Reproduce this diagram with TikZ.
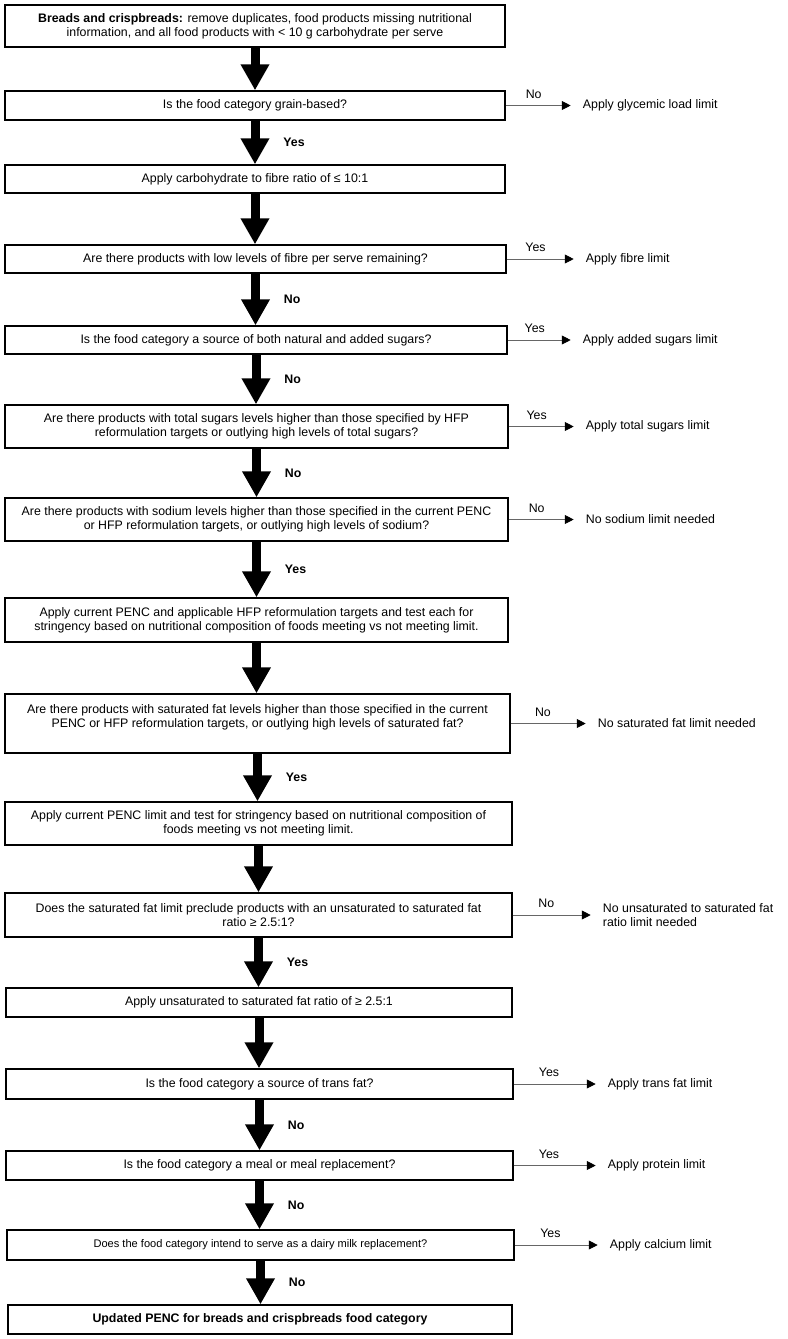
\documentclass[tikz,border=0pt]{standalone}
\usepackage{fontspec}
\setmainfont{Liberation Sans}
\usepackage{tikz}
\usetikzlibrary{arrows.meta,positioning}
\newlength\px
\setlength\px{0.85pt}

\begin{document}
\begin{tikzpicture}[x=0.85pt,y=-0.85pt,
  box/.style={draw,line width=1.2pt,align=center,inner sep=0pt,
    font=\fontsize{10.5}{12}\selectfont},
  outcome/.style={align=left,inner xsep=10.2pt,inner ysep=0pt,
    font=\fontsize{10.5}{12}\selectfont},
  bigarrow/.style={line width=7.65pt,-{Triangle[length=22.1pt,width=23pt]}},
  sidearrow/.style={line width=0.7pt,draw=black!60,-{Triangle[length=7.6pt,width=7.6pt,color=black]}},
  ans/.style={midway,right,xshift=17pt,font=\fontsize{10.5}{12}\selectfont\bfseries},
  sidelab/.style={pos=0.43,above=2.5pt,font=\fontsize{10.5}{12}\selectfont}]
\useasboundingbox (0,0) rectangle (787,1339);

% Main column
\node[box,minimum width=500\px,minimum height=42\px] (b1) at (255,26)
  {\textbf{Breads and crispbreads:} remove duplicates, food products missing nutritional\\information, and all food products with < 10 g carbohydrate per serve};
\node[box,minimum width=500\px,minimum height=29\px] (b2) at (255,105.5)
  {Is the food category grain-based?};
\node[box,minimum width=500\px,minimum height=28\px] (b3) at (255,179)
  {Apply carbohydrate to fibre ratio of ≤ 10:1};
\node[box,minimum width=501\px,minimum height=28\px] (b4) at (255.5,259)
  {Are there products with low levels of fibre per serve remaining?};
\node[box,minimum width=502\px,minimum height=28\px] (b5) at (256,340)
  {Is the food category a source of both natural and added sugars?};
\node[box,minimum width=503\px,minimum height=43\px] (b6) at (256.5,426.5)
  {Are there products with total sugars levels higher than those specified by HFP\\reformulation targets or outlying high levels of total sugars?};
\node[box,minimum width=503\px,minimum height=43\px] (b7) at (256.5,519.5)
  {Are there products with sodium levels higher than those specified in the current PENC\\or HFP reformulation targets, or outlying high levels of sodium?};
\node[box,minimum width=503\px,minimum height=44\px] (b8) at (256.5,620)
  {Apply current PENC and applicable HFP reformulation targets and test each for\\stringency based on nutritional composition of foods meeting vs not meeting limit.};
\node[box,minimum width=505\px,minimum height=59\px] (b9) at (257.5,723.5)
  {Are there products with saturated fat levels higher than those specified in the current\\PENC or HFP reformulation targets, or outlying high levels of saturated fat?\\\mbox{}};
\node[box,minimum width=507\px,minimum height=43\px] (b10) at (258.5,823.5)
  {Apply current PENC limit and test for stringency based on nutritional composition of\\foods meeting vs not meeting limit.};
\node[box,minimum width=507\px,minimum height=44\px] (b11) at (258.5,915)
  {Does the saturated fat limit preclude products with an unsaturated to saturated fat\\ratio ≥ 2.5:1?};
\node[box,minimum width=506\px,minimum height=29\px] (b12) at (259,1002.5)
  {Apply unsaturated to saturated fat ratio of ≥ 2.5:1};
\node[box,minimum width=507\px,minimum height=30\px] (b13) at (259.5,1084)
  {Is the food category a source of trans fat?};
\node[box,minimum width=507\px,minimum height=29\px] (b14) at (259.5,1165.5)
  {Is the food category a meal or meal replacement?};
\node[box,minimum width=507\px,minimum height=30\px,font=\fontsize{9.4}{11}\selectfont] (b15) at (260.5,1245)
  {Does the food category intend to serve as a dairy milk replacement?};
\node[box,minimum width=504\px,minimum height=29\px,font=\fontsize{10.5}{12}\selectfont\bfseries] (b16) at (260,1319.5)
  {Updated PENC for breads and crispbreads food category};

% Outcomes on the right
\node[outcome,right=55.25pt of b2] (o2) {Apply glycemic load limit};
\node[outcome,right=56.95pt of b4] (o4) {Apply fibre limit};
\node[outcome,right=53.55pt of b5] (o5) {Apply added sugars limit};
\node[outcome,right=55.25pt of b6] (o6) {Apply total sugars limit};
\node[outcome,right=55.25pt of b7] (o7) {No sodium limit needed};
\node[outcome,right=63.75pt of b9] (o9) {No saturated fat limit needed};
\node[outcome,right=66.3pt of b11] (o11) {No unsaturated to saturated fat\\ratio limit needed};
\node[outcome,right=69.7pt of b13] (o13) {Apply trans fat limit};
\node[outcome,right=69.7pt of b14] (o14) {Apply protein limit};
\node[outcome,right=70.55pt of b15] (o15) {Apply calcium limit};

% Thick arrows down the column
\draw[bigarrow] (b1.south) -- (b1.south |- b2.north);
\draw[bigarrow] (b2.south) -- node[ans] {Yes} (b2.south |- b3.north);
\draw[bigarrow] (b3.south) -- (b3.south |- b4.north);
\draw[bigarrow] (b4.south) -- node[ans] {No} (b4.south |- b5.north);
\draw[bigarrow] (b5.south) -- node[ans] {No} (b5.south |- b6.north);
\draw[bigarrow] (b6.south) -- node[ans] {No} (b6.south |- b7.north);
\draw[bigarrow] (b7.south) -- node[ans] {Yes} (b7.south |- b8.north);
\draw[bigarrow] (b8.south) -- (b8.south |- b9.north);
\draw[bigarrow] (b9.south) -- node[ans] {Yes} (b9.south |- b10.north);
\draw[bigarrow] (b10.south) -- (b10.south |- b11.north);
\draw[bigarrow] (b11.south) -- node[ans] {Yes} (b11.south |- b12.north);
\draw[bigarrow] (b12.south) -- (b12.south |- b13.north);
\draw[bigarrow] (b13.south) -- node[ans] {No} (b13.south |- b14.north);
\draw[bigarrow] (b14.south) -- node[ans] {No} (b14.south |- b15.north);
\draw[bigarrow] (b15.south) -- node[ans] {No} (b15.south |- b16.north);

% Side arrows
\draw[sidearrow] (b2.east) -- node[sidelab] {No} (o2.west);
\draw[sidearrow] (b4.east) -- node[sidelab] {Yes} (o4.west);
\draw[sidearrow] (b5.east) -- node[sidelab] {Yes} (o5.west);
\draw[sidearrow] (b6.east) -- node[sidelab] {Yes} (o6.west);
\draw[sidearrow] (b7.east) -- node[sidelab] {No} (o7.west);
\draw[sidearrow] (b9.east) -- node[sidelab] {No} (o9.west);
\draw[sidearrow] (b11.east) -- node[sidelab] {No} (o11.west);
\draw[sidearrow] (b13.east) -- node[sidelab] {Yes} (o13.west);
\draw[sidearrow] (b14.east) -- node[sidelab] {Yes} (o14.west);
\draw[sidearrow] (b15.east) -- node[sidelab] {Yes} (o15.west);
\end{tikzpicture}
\end{document}
